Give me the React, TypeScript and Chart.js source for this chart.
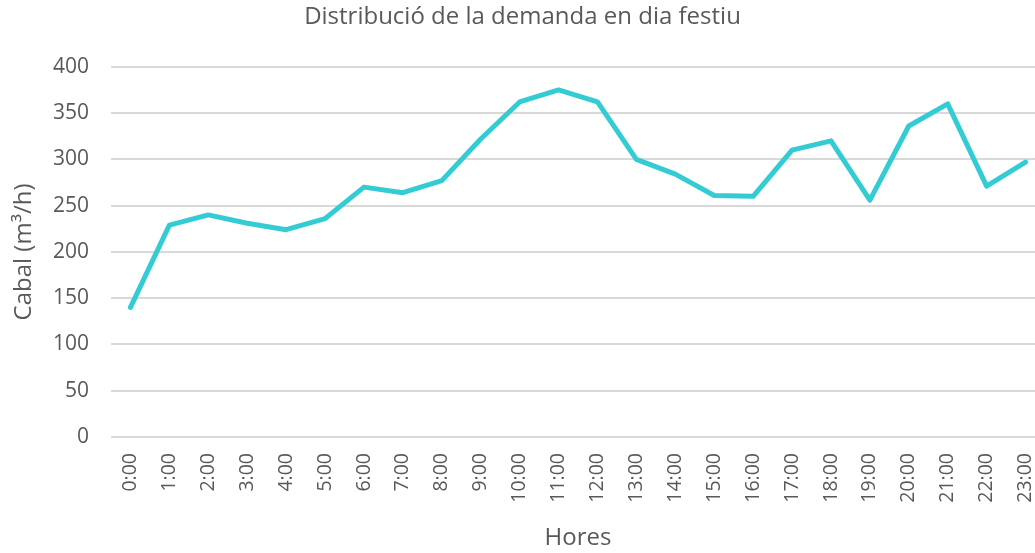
import { useEffect, useRef } from 'react';
import { Chart, registerables } from 'chart.js';

Chart.register(...registerables);

const hours = [
  '0:00', '1:00', '2:00', '3:00', '4:00', '5:00', '6:00', '7:00',
  '8:00', '9:00', '10:00', '11:00', '12:00', '13:00', '14:00', '15:00',
  '16:00', '17:00', '18:00', '19:00', '20:00', '21:00', '22:00', '23:00',
];

const demand = [
  140, 229, 240, 231, 224, 236, 270, 264,
  277, 322, 362, 375, 362, 300, 284, 261,
  260, 310, 320, 256, 336, 360, 271, 297,
];

const chartTitle = 'Distribució de la demanda en dia festiu';
const xTitle = 'Hores';
const yTitle = 'Cabal (m³/h)';

const FONT = '"Open Sans", Lato, sans-serif';
const TEXT = '#595959';

export default function App() {
  const ref = useRef<HTMLCanvasElement | null>(null);

  useEffect(() => {
    if (!ref.current) return;
    const chart = new Chart(ref.current, {
      type: 'line',
      data: {
        labels: hours,
        datasets: [
          {
            data: demand,
            borderColor: '#33CCD4',
            borderWidth: 5,
            pointRadius: 0,
            pointHoverRadius: 0,
            tension: 0,
            fill: false,
            borderCapStyle: 'round',
            borderJoinStyle: 'round',
          },
        ],
      },
      options: {
        animation: false,
        responsive: true,
        maintainAspectRatio: false,
        layout: { padding: { left: 0, right: 1, top: 0, bottom: 0 } },
        plugins: {
          legend: { display: false },
          tooltip: { enabled: false },
          title: {
            display: true,
            text: chartTitle,
            color: TEXT,
            font: { family: FONT, size: 24, weight: 'normal' },
            padding: { top: 3, bottom: 35 },
          },
        },
        scales: {
          x: {
            offset: true,
            grid: { display: false, drawTicks: false },
            border: { display: false },
            ticks: {
              color: TEXT,
              font: { family: FONT, size: 19.5 },
              minRotation: 90,
              maxRotation: 90,
              autoSkip: false,
              padding: 16,
            },
            title: {
              display: true,
              text: xTitle,
              color: TEXT,
              font: { family: FONT, size: 24 },
              padding: 0,
            },
            afterFit: (scale: any) => {
              scale.height = 116;
              scale.paddingLeft = 0;
              scale.paddingRight = 0;
            },
          },
          y: {
            min: 0,
            max: 400,
            grid: { color: '#d9d9d9', lineWidth: 2, drawTicks: false },
            border: { display: false },
            ticks: {
              stepSize: 50,
              color: TEXT,
              font: { family: FONT, size: 21 },
              padding: 22,
            },
            title: {
              display: true,
              text: yTitle,
              color: TEXT,
              font: { family: FONT, size: 24 },
              padding: { top: 10, bottom: 0 },
            },
            afterFit: (scale: any) => {
              scale.width = 111;
            },
          },
        },
      },
    });
    return () => chart.destroy();
  }, []);

  return (
    <div
      style={{
        position: 'fixed',
        left: 0,
        top: 0,
        width: 1046,
        height: 553,
        overflow: 'hidden',
        background: '#fff',
      }}
    >
      <canvas ref={ref} />
    </div>
  );
}
